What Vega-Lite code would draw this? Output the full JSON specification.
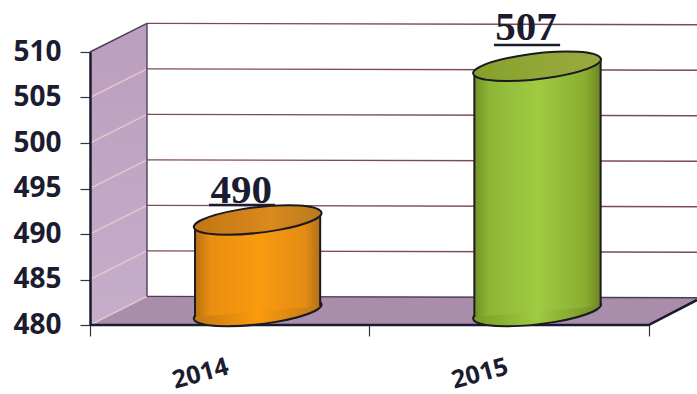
{
"$schema":"https://vega.github.io/schema/vega-lite/v6.json",
"width":607,"height":273,
"autosize":{"type":"none"},
"padding":{"left":90,"top":52,"right":0,"bottom":69},
"background":"#ffffff",
"config":{"view":{"stroke":null}},
"datasets":{
"bars":[{"x":2014,"y":490},{"x":2015,"y":507}],
"bases":[{"x":2014,"y":480},{"x":2015,"y":480}],
"body":[
{"year":2014,"x":2013.876,"y":490.88,"y2":480.88},
{"year":2014,"x":2014.324,"y":492.42,"y2":482.09},
{"year":2015,"x":2014.876,"y":508.02,"y2":480.88},
{"year":2015,"x":2015.328,"y":509.34,"y2":482.09}],
"sideWall":[{"x":2013.5,"y":510,"y2":480},{"x":2013.704,"y":513.15,"y2":483.15}],
"floor":[{"x":2013.5,"y":480,"y2":480},{"x":2013.704,"y":483.15,"y2":480},{"x":2015.5,"y":483.05,"y2":480},{"x":2015.673,"y":483.0,"y2":482.75}],
"backGrid":[
{"s":510,"x":2013.704,"y":513.15},{"s":510,"x":2015.673,"y":513.0},
{"s":505,"x":2013.704,"y":508.15},{"s":505,"x":2015.673,"y":508.0},
{"s":500,"x":2013.704,"y":503.15},{"s":500,"x":2015.673,"y":503.0},
{"s":495,"x":2013.704,"y":498.15},{"s":495,"x":2015.673,"y":498.0},
{"s":490,"x":2013.704,"y":493.15},{"s":490,"x":2015.673,"y":493.0},
{"s":485,"x":2013.704,"y":488.15},{"s":485,"x":2015.673,"y":488.0}],
"sideGrid":[
{"s":505,"x":2013.5,"y":505},{"s":505,"x":2013.704,"y":508.15},
{"s":500,"x":2013.5,"y":500},{"s":500,"x":2013.704,"y":503.15},
{"s":495,"x":2013.5,"y":495},{"s":495,"x":2013.704,"y":498.15},
{"s":490,"x":2013.5,"y":490},{"s":490,"x":2013.704,"y":493.15},
{"s":485,"x":2013.5,"y":485},{"s":485,"x":2013.704,"y":488.15},
{"s":480,"x":2013.5,"y":480},{"s":480,"x":2013.704,"y":483.15}],
"thinEdges":[
{"s":"top","x":2013.5,"y":510},{"s":"top","x":2013.704,"y":513.15},
{"s":"corner","x":2013.704,"y":513.15},{"s":"corner","x":2013.704,"y":483.15},
{"s":"floorBack","x":2013.704,"y":483.15},{"s":"floorBack","x":2015.673,"y":483.0}],
"thickEdges":[
{"s":"front","x":2013.5,"y":480},{"s":"front","x":2015.5,"y":480},{"s":"front","x":2015.673,"y":482.75}],
"underlines":[
{"x":2013.926,"x2":2014.162,"y":493.19},
{"x":2014.946,"x2":2015.183,"y":510.77}]
},
"encoding":{
"x":{"field":"x","type":"quantitative","title":null,"scale":{"domain":[2013.5,2015.673],"nice":false,"zero":false},
"axis":{"values":[2013.5,2014.5,2015.5],"grid":false,"domain":false,"tickSize":11,"tickColor":"#333344","tickWidth":1.2,
"labelExpr":"datum.value==2013.5?'2014':datum.value==2014.5?'2015':''","labelAngle":-15,"labelAlign":"center","labelBaseline":"middle","labelOffset":110,"labelPadding":37,"labelFont":"Open Sans","labelFontWeight":"bold","labelFontSize":25,"labelColor":"#1c1c30","labelOverlap":false,"labelBound":false,"labelFlush":false,"zindex":1}},
"y":{"field":"y","type":"quantitative","title":null,"scale":{"domain":[480,510],"nice":false,"zero":false},
"axis":{"values":[480,485,490,495,500,505,510],"grid":false,"domain":true,"domainColor":"#1a1a30","domainWidth":2.5,"tickSize":10,"tickColor":"#333344","tickWidth":1.2,"labelPadding":19,"labelFont":"Open Sans","labelFontWeight":"bold","labelFontSize":28,"labelColor":"#1c1c30","zindex":1}}
},
"layer":[
{"data":{"name":"sideWall"},"mark":{"type":"area","fill":{"gradient":"linear","x1":0,"y1":0,"x2":0,"y2":1,"stops":[{"offset":0,"color":"#bc9ebe"},{"offset":1,"color":"#c6aecb"}]},"stroke":null},
 "encoding":{"y2":{"field":"y2"}}},
{"data":{"name":"floor"},"mark":{"type":"area","fill":"#a98dab"},"encoding":{"y2":{"field":"y2"}}},
{"data":{"name":"backGrid"},"mark":{"type":"line","stroke":"#7d4a5c","strokeWidth":1.4},"encoding":{"detail":{"field":"s"}}},
{"data":{"name":"sideGrid"},"mark":{"type":"line","stroke":"#e6c6cc","strokeWidth":1.4},"encoding":{"detail":{"field":"s"}}},
{"data":{"name":"thinEdges"},"mark":{"type":"line","stroke":"#4a3f55","strokeWidth":1.4},"encoding":{"detail":{"field":"s"}}},
{"data":{"name":"thickEdges"},"mark":{"type":"line","stroke":"#1a1a30","strokeWidth":2.5},"encoding":{"detail":{"field":"s"}}},

{"data":{"name":"bases"},"transform":[{"filter":"datum.x==2014"}],
 "mark":{"type":"point","filled":true,"size":50510,"xOffset":28,"yOffset":-13.5,"opacity":1,"strokeWidth":2,"stroke":"#1a1a20","fill":{"gradient":"linear","x1":0,"y1":0,"x2":1,"y2":0,"stops":[{"offset":0,"color":"#c27a12"},{"offset":0.5,"color":"#fb9a0e"},{"offset":1,"color":"#bd7a18"}]},
 "shape":"M-0.5,0.0A0.5,0.0998 -6.5 1,1 0.5,0.0A0.5,0.0998 -6.5 1,1 -0.5,0.0Z"}},
{"data":{"name":"bases"},"transform":[{"filter":"datum.x==2015"}],
 "mark":{"type":"point","filled":true,"size":50510,"xOffset":28,"yOffset":-13.5,"opacity":1,"strokeWidth":2,"stroke":"#1a1a20","fill":{"gradient":"linear","x1":0,"y1":0,"x2":1,"y2":0,"stops":[{"offset":0,"color":"#7a9a26"},{"offset":0.5,"color":"#9fcb42"},{"offset":1,"color":"#748c24"}]},
 "shape":"M-0.5,0.0A0.5,0.0998 -6.5 1,1 0.5,0.0A0.5,0.0998 -6.5 1,1 -0.5,0.0Z"}},

{"data":{"name":"body"},"transform":[{"filter":"datum.year==2014"}],
 "mark":{"type":"area","fill":{"gradient":"linear","x1":0,"y1":0,"x2":1,"y2":0,"stops":[{"offset":0,"color":"#b87010"},{"offset":0.12,"color":"#e88e12"},{"offset":0.5,"color":"#fb9a0e"},{"offset":0.88,"color":"#e48c14"},{"offset":1,"color":"#b07018"}]}},
 "encoding":{"y2":{"field":"y2"}}},
{"data":{"name":"body"},"transform":[{"filter":"datum.year==2015"}],
 "mark":{"type":"area","fill":{"gradient":"linear","x1":0,"y1":0,"x2":1,"y2":0,"stops":[{"offset":0,"color":"#729226"},{"offset":0.12,"color":"#8eb636"},{"offset":0.5,"color":"#9fcb42"},{"offset":0.88,"color":"#8aae30"},{"offset":1,"color":"#6c8424"}]}},
 "encoding":{"y2":{"field":"y2"}}},
{"data":{"name":"body"},"mark":{"type":"rule","stroke":"#1a1a20","strokeWidth":2},"encoding":{"y2":{"field":"y2"}}},

{"data":{"name":"bars"},"transform":[{"filter":"datum.x==2014"}],
 "mark":{"type":"point","filled":true,"size":50510,"xOffset":28,"yOffset":-14,"opacity":1,"strokeWidth":2,"stroke":"#1a1a20","fill":{"gradient":"linear","x1":0,"y1":0,"x2":1,"y2":0,"stops":[{"offset":0,"color":"#c27514"},{"offset":0.6,"color":"#da8a1c"},{"offset":1,"color":"#b87a20"}]},
 "shape":"M-0.5,0.0A0.5,0.0998 -6.5 1,1 0.5,0.0A0.5,0.0998 -6.5 1,1 -0.5,0.0Z"}},
{"data":{"name":"bars"},"transform":[{"filter":"datum.x==2015"}],
 "mark":{"type":"point","filled":true,"size":50510,"xOffset":28,"yOffset":-13,"opacity":1,"strokeWidth":2,"stroke":"#1a1a20","fill":{"gradient":"linear","x1":0,"y1":0,"x2":1,"y2":0,"stops":[{"offset":0,"color":"#86a02a"},{"offset":0.6,"color":"#93a838"},{"offset":1,"color":"#98a840"}]},
 "shape":"M-0.5,0.0A0.5,0.0998 -6.5 1,1 0.5,0.0A0.5,0.0998 -6.5 1,1 -0.5,0.0Z"}},

{"data":{"name":"bars"},"transform":[{"filter":"datum.x==2014"}],
 "mark":{"type":"text","font":"Liberation Serif","fontWeight":"bold","fontSize":41,"color":"#1c1c30","align":"center","baseline":"alphabetic","dx":11.5,"dy":-31},
 "encoding":{"text":{"field":"y","type":"quantitative"}}},
{"data":{"name":"bars"},"transform":[{"filter":"datum.x==2015"}],
 "mark":{"type":"text","font":"Liberation Serif","fontWeight":"bold","fontSize":41,"color":"#1c1c30","align":"center","baseline":"alphabetic","dx":17,"dy":-39},
 "encoding":{"text":{"field":"y","type":"quantitative"}}},
{"data":{"name":"underlines"},"mark":{"type":"rule","stroke":"#1c1c30","strokeWidth":2.5},"encoding":{"x2":{"field":"x2"}}}
]
}
